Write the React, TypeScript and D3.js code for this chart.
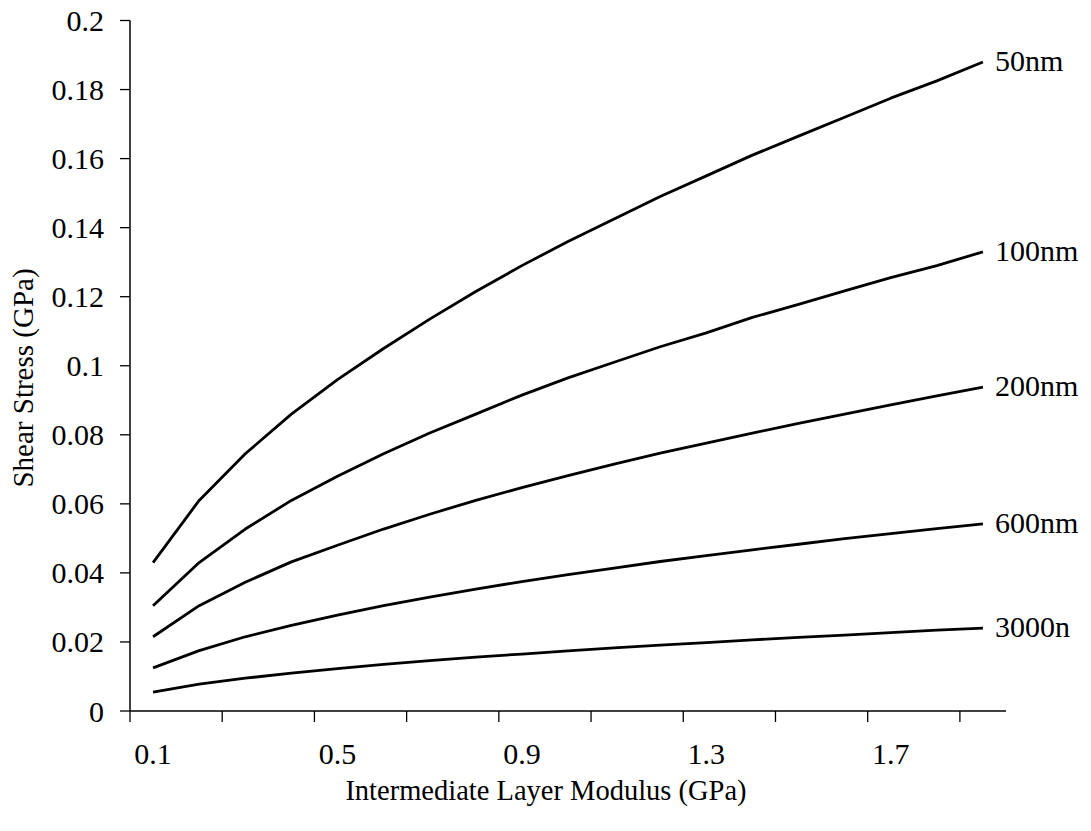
import React from "react";
import * as d3 from "d3";

const categories = ["0.1","0.2","0.3","0.4","0.5","0.6","0.7","0.8","0.9","1.0","1.1","1.2","1.3","1.4","1.5","1.6","1.7","1.8","1.9"];
const xTickLabels = ["0.1", "0.5", "0.9", "1.3", "1.7"];
const yTicks = [0, 0.02, 0.04, 0.06, 0.08, 0.1, 0.12, 0.14, 0.16, 0.18, 0.2];

const s50 = [0.043, 0.061, 0.0745, 0.086, 0.096, 0.105, 0.1135, 0.1215, 0.129, 0.136, 0.1425, 0.149, 0.155, 0.161, 0.1665, 0.172, 0.1775, 0.1825, 0.188];
const s100 = [0.0305, 0.043, 0.0527, 0.061, 0.068, 0.0745, 0.0805, 0.086, 0.0915, 0.0965, 0.101, 0.1055, 0.1095, 0.114, 0.1178, 0.1217, 0.1255, 0.129, 0.133];
const s200 = [0.0215, 0.0305, 0.0373, 0.0432, 0.048, 0.0527, 0.057, 0.061, 0.0647, 0.0682, 0.0715, 0.0747, 0.0776, 0.0805, 0.0833, 0.086, 0.0887, 0.0913, 0.0938];
const s600 = [0.0125, 0.0175, 0.0215, 0.0248, 0.0278, 0.0305, 0.033, 0.0353, 0.0375, 0.0395, 0.0414, 0.0433, 0.045, 0.0467, 0.0483, 0.0499, 0.0514, 0.0528, 0.0542];
const s3000 = [0.0055, 0.0078, 0.0095, 0.011, 0.0123, 0.0135, 0.0146, 0.0156, 0.0165, 0.0174, 0.0183, 0.0191, 0.0198, 0.0206, 0.0213, 0.022, 0.0227, 0.0234, 0.024];

const seriesNames = ["50nm", "100nm", "200nm", "600nm", "3000n"];
const seriesValues = [s50, s100, s200, s600, s3000];

const FONT = "'Liberation Serif', 'Times New Roman', serif";

export default function App() {
  const W = 1091, H = 831;
  const x0 = 130, x1 = 1006, yTop = 20.5, yBot = 711;
  const x = d3.scaleBand<string>().domain(categories).range([x0, x1]).padding(0);
  const y = d3.scaleLinear().domain([0, 0.2]).range([yBot, yTop]);
  const bw = x.bandwidth();
  const cx = (c: string) => (x(c) as number) + bw / 2;
  const line = d3.line<number>().x((_, i) => cx(categories[i])).y((v) => y(v));
  const fmt = (v: number) => String(+v.toFixed(2));
  const xTickPos = categories.filter((_, i) => i % 2 === 0).map((c) => x(c) as number);

  return (
    <svg width={W} height={H} style={{ position: "absolute", left: 0, top: 0, background: "#fff" }} fontFamily={FONT}>
      <rect width={W} height={H} fill="#fff" />
      {/* y axis */}
      <line x1={x0} x2={x0} y1={yTop} y2={yBot} stroke="#000" strokeWidth={1.5} />
      {yTicks.map((t) => (
        <g key={t}>
          <line x1={x0 - 10} x2={x0} y1={y(t)} y2={y(t)} stroke="#000" strokeWidth={1.3} />
          <text x={104} y={y(t)} dy="0.35em" textAnchor="end" fontSize={30} fill="#000">{fmt(t)}</text>
        </g>
      ))}
      {/* x axis */}
      <line x1={x0} x2={x1} y1={yBot} y2={yBot} stroke="#000" strokeWidth={1.5} />
      {xTickPos.map((p, i) => (
        <line key={i} x1={p} x2={p} y1={yBot} y2={yBot + 11} stroke="#000" strokeWidth={1.3} />
      ))}
      {xTickLabels.map((c) => (
        <text key={c} x={cx(c)} y={764} textAnchor="middle" fontSize={30} fill="#000">{c}</text>
      ))}
      {/* series */}
      {seriesValues.map((vals, k) => (
        <g key={seriesNames[k]}>
          <path d={line(vals) as string} fill="none" stroke="#000" strokeWidth={2.8} strokeLinejoin="round" />
          <text x={995} y={y(vals[vals.length - 1])} dy="0.3em" fontSize={30} fill="#000">{seriesNames[k]}</text>
        </g>
      ))}
      {/* titles */}
      <text x={546} y={800} textAnchor="middle" fontSize={28.5} fill="#000">Intermediate Layer Modulus (GPa)</text>
      <text transform={`translate(33, 378) rotate(-90)`} textAnchor="middle" fontSize={29} fill="#000">Shear Stress (GPa)</text>
    </svg>
  );
}
